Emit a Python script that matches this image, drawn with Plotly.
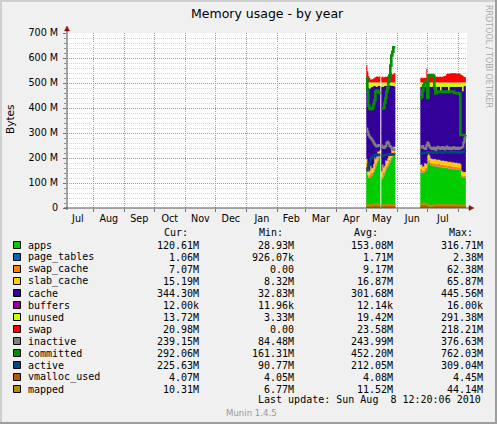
import plotly.graph_objects as go
from datetime import datetime, timedelta

# ---------------- data (values in MBytes, one value per day) ----------------
block1_start = "2010-05-01"
block2_start = "2010-06-24"
last_update = "2010-08-08 12:20:06"

apps_b1 = [150, 130, 119, 120, 122, 128, 135, 142, 155, 165, 178, 188, 195, 203, None,
           112, 120, 128, 140, 150, 158, 165, 172, 180, 190, 198, 206, 212, 218]
page_tables_b1 = [1.8, 1.8, 1.7, 1.8, 1.9, 1.8, 1.7, 1.8, 1.9, 1.8, 1.7, 1.8, 1.8, 1.7, None,
                  1.8, 1.9, 1.8, 1.7, 1.8, 1.8, 1.7, 1.8, 1.9, 1.8, 1.7, 1.8, 1.8, 1.8]
swap_cache_b1 = [25, 12, 8, 10, 20, 10, 8, 12, 18, 10, 9, 14, 10, 8, None,
                 10, 22, 12, 9, 15, 10, 12, 18, 11, 9, 14, 10, 12, 8]
slab_cache_b1 = [20, 18, 16, 17, 25, 18, 16, 20, 28, 18, 17, 22, 18, 17, None,
                 22, 30, 20, 18, 24, 18, 20, 26, 18, 17, 22, 18, 20, 16]
cache_b1 = [293.2, 325.2, 335.2, 328.2, 313.2, 326.2, 325.2, 312.2, 287.2, 292.2, 278.2, 262.2, 265.2, 259.2, None,
            340.2, 310.2, 325.2, 319.2, 299.2, 301.2, 288.2, 270.2, 279.2, 273.2, 253.2, 254.2, 242.2, 243.2]
buffers_b1 = [0.012, 0.012, 0.012, 0.013, 0.012, 0.012, 0.012, 0.012, 0.013, 0.012, 0.012, 0.012, 0.012, 0.012, None,
              0.012, 0.012, 0.012, 0.012, 0.012, 0.013, 0.012, 0.012, 0.012, 0.012, 0.012, 0.012, 0.012, 0.012]
unused_b1 = [12, 15, 22, 25, 20, 18, 16, 14, 12, 15, 18, 14, 12, 13, None,
             16, 18, 15, 14, 12, 13, 15, 14, 12, 11, 13, 12, 14, 15]
swap_b1 = [70, 45, 25, 18, 12, 12, 14, 16, 20, 22, 24, 24, 22, 25, None,
           22, 24, 20, 22, 24, 22, 26, 30, 36, 42, 35, 32, 36, 38]
inactive_b1 = [318, 305, 292, 285, 280, 275, 270, 262, 255, 250, 246, 250, 252, 248, None,
               250, 245, 240, 242, 248, 260, 265, 258, 248, 245, 240, 236, 232, 235]
committed_b1 = [520, 470, 410, 398, 395, 395, 400, 415, 430, 465, 470, 468, 460, 462, None,
                400, 398, 400, 420, 440, 465, 480, 505, 530, 570, 610, 625, 643, 643]
active_b1 = [150, 160, 172, 185, 195, 200, 205, 210, 212, 214, 212, 210, 214, 212, None,
             205, 207, 210, 212, 214, 212, 213, 215, 212, 214, 216, 213, 215, 214]
vmalloc_used_b1 = [4.1, 4.1, 4.1, 4.1, 4.1, 4.1, 4.1, 4.1, 4.1, 4.1, 4.1, 4.1, 4.1, 4.1, None,
                   4.1, 4.1, 4.1, 4.1, 4.1, 4.1, 4.1, 4.1, 4.1, 4.1, 4.1, 4.1, 4.1, 4.1]
mapped_b1 = [10, 10, 11, 10, 10, 11, 12, 12, 14, 16, 17, 15, 12, 11, None,
             10, 10, 11, 11, 12, 12, 12, 13, 12, 12, 12, 11, 12, 12]

apps_b2 = [142, 140, 138, 140, 145, 148, 150, 172, 185, 180,
           170, 168, 168, 166, 165, 166, 164, 165, 163, 164,
           162, 160, 161, 159, 160, 158, 160, 157, 156, 155,
           156, 154, 155, 153, 154, 152, 153, 151, 152, 150,
           148, 125, 122, 121, 121, 120.6]
page_tables_b2 = [1.7, 1.7, 1.7, 1.7, 1.7, 1.7, 1.7, 1.7, 1.7, 1.7,
                  1.7, 1.7, 1.7, 1.7, 1.7, 1.7, 1.7, 1.7, 1.7, 1.7,
                  1.7, 1.7, 1.7, 1.7, 1.7, 1.7, 1.7, 1.7, 1.7, 1.7,
                  1.7, 1.7, 1.7, 1.7, 1.7, 1.7, 1.7, 1.7, 1.7, 1.7,
                  1.7, 1.5, 1.3, 1.2, 1.1, 1.06]
swap_cache_b2 = [12, 14, 10, 9, 12, 11, 8, 15, 12, 10,
                 10, 11, 9, 10, 11, 10, 9, 10, 11, 10,
                 9, 10, 10, 11, 9, 10, 10, 9, 10, 11,
                 10, 9, 10, 10, 9, 10, 9, 10, 9, 10,
                 9, 8, 7, 7, 7, 7.07]
slab_cache_b2 = [16, 18, 15, 16, 20, 17, 15, 22, 20, 17,
                 16, 17, 16, 17, 18, 17, 16, 17, 16, 17,
                 16, 17, 16, 17, 16, 17, 16, 16, 17, 16,
                 17, 16, 16, 17, 16, 16, 17, 16, 16, 17,
                 16, 15, 15, 15, 15, 15.19]
cache_b2 = [312.3, 312.3, 317.3, 317.3, 308.3, 308.3, 307.3, 277.3, 268.3, 277.3,
            286.3, 287.3, 291.3, 289.3, 289.3, 269.3, 293.3, 291.3, 294.3, 291.3,
            273.3, 296.3, 297.3, 295.3, 298.3, 299.3, 296.3, 301.3, 275.3, 300.3,
            300.3, 305.3, 301.3, 303.3, 305.3, 304.3, 304.3, 307.3, 306.3, 305.3,
            311.3, 335.5, 321.7, 342.8, 343.9, 344.3]
buffers_b2 = [0.012, 0.012, 0.012, 0.012, 0.012, 0.012, 0.012, 0.012, 0.012, 0.012,
              0.012, 0.012, 0.012, 0.012, 0.012, 0.012, 0.012, 0.012, 0.012, 0.012,
              0.012, 0.012, 0.012, 0.012, 0.012, 0.012, 0.012, 0.012, 0.012, 0.012,
              0.012, 0.012, 0.012, 0.012, 0.012, 0.012, 0.012, 0.012, 0.012, 0.012,
              0.012, 0.012, 0.012, 0.012, 0.012, 0.012]
unused_b2 = [18, 16, 20, 18, 15, 16, 20, 14, 15, 16,
             18, 17, 16, 18, 17, 38, 18, 17, 16, 18,
             40, 17, 16, 18, 17, 16, 18, 17, 42, 18,
             17, 16, 18, 17, 16, 18, 17, 16, 17, 18,
             16, 17, 35, 15, 14, 13.72]
swap_b2 = [18, 20, 17, 18, 19, 18, 55, 28, 26, 25,
           26, 27, 25, 24, 23, 22, 24, 23, 22, 24,
           23, 22, 24, 25, 26, 28, 34, 36, 35, 37,
           36, 38, 37, 36, 38, 37, 36, 35, 37, 36,
           32, 30, 28, 24, 22, 20.98]
inactive_b2 = [245, 242, 248, 240, 238, 236, 250, 262, 255, 245,
               240, 236, 238, 242, 235, 232, 240, 245, 238, 242,
               236, 240, 244, 238, 234, 240, 246, 238, 236, 242,
               240, 235, 238, 244, 240, 236, 238, 242, 236, 238,
               240, 242, 245, 262, 278, 290]
committed_b2 = [440, 445, 470, 490, 500, 505, 500, 440, 530, 532,
                532, 530, 532, 528, 480, 458, 465, 466, 464, 465,
                466, 465, 464, 466, 465, 464, 465, 466, 465, 464,
                465, 466, 464, 465, 460, 460, 459, 460, 458, 458,
                292, 292, 292, 292, 292, 292.06]
active_b2 = [215, 218, 220, 222, 220, 218, 222, 224, 220, 222,
             224, 222, 220, 223, 225, 222, 220, 224, 222, 226,
             224, 222, 220, 224, 222, 225, 223, 221, 224, 222,
             226, 223, 221, 224, 222, 225, 223, 221, 224, 222,
             220, 224, 226, 224, 226, 225.63]
vmalloc_used_b2 = [4.1, 4.1, 4.1, 4.1, 4.1, 4.1, 4.1, 4.1, 4.1, 4.1,
                   4.1, 4.1, 4.1, 4.1, 4.1, 4.1, 4.1, 4.1, 4.1, 4.1,
                   4.1, 4.1, 4.1, 4.1, 4.1, 4.1, 4.1, 4.1, 4.1, 4.1,
                   4.1, 4.1, 4.1, 4.1, 4.1, 4.1, 4.1, 4.1, 4.1, 4.1,
                   4.1, 4.1, 4.1, 4.1, 4.1, 4.07]
mapped_b2 = [16, 17, 16, 18, 17, 16, 15, 14, 12, 8,
             7, 8, 10, 11, 12, 11, 12, 11, 12, 11,
             12, 11, 12, 11, 12, 11, 12, 11, 12, 11,
             12, 11, 12, 11, 12, 11, 11, 11, 10, 11,
             10, 10, 10, 10, 10, 10.31]

series_names = ["apps", "page_tables", "swap_cache", "slab_cache", "cache", "buffers",
                "unused", "swap", "inactive", "committed", "active", "vmalloc_used", "mapped"]
series_colors = ["#00CC00", "#0066B3", "#FF8000", "#FFCC00", "#330099", "#990099",
                 "#CCFF00", "#FF0000", "#808080", "#008F00", "#00487D", "#B35A00", "#B38F00"]
area_names = ["apps", "page_tables", "swap_cache", "slab_cache", "cache", "buffers", "unused", "swap"]
line_names = ["inactive", "committed", "active", "vmalloc_used", "mapped"]

cur_text = ["120.61M", "1.06M", "7.07M", "15.19M", "344.30M", "12.00k", "13.72M", "20.98M",
            "239.15M", "292.06M", "225.63M", "4.07M", "10.31M"]
min_text = ["28.93M", "926.07k", "0.00", "8.32M", "32.83M", "11.96k", "3.33M", "0.00",
            "84.48M", "161.31M", "90.77M", "4.05M", "6.77M"]
avg_text = ["153.08M", "1.71M", "9.17M", "16.87M", "301.68M", "12.14k", "19.42M", "23.58M",
            "243.99M", "452.20M", "212.05M", "4.08M", "11.52M"]
max_text = ["316.71M", "2.38M", "62.38M", "65.87M", "445.56M", "16.00k", "291.38M", "218.21M",
            "376.63M", "762.03M", "309.04M", "4.45M", "44.14M"]

y_major_values = [0, 100, 200, 300, 400, 500, 600, 700]
y_major_labels = ["0", "100 M", "200 M", "300 M", "400 M", "500 M", "600 M", "700 M"]
y_minor_step = 20
month_labels = ["Jul", "Aug", "Sep", "Oct", "Nov", "Dec", "Jan", "Feb", "Mar", "Apr", "May", "Jun", "Jul"]
month_starts = ["2009-07-01", "2009-08-01", "2009-09-01", "2009-10-01", "2009-11-01", "2009-12-01",
                "2010-01-01", "2010-02-01", "2010-03-01", "2010-04-01", "2010-05-01", "2010-06-01",
                "2010-07-01", "2010-08-01"]

blocks = [
    (block1_start, {"apps": apps_b1, "page_tables": page_tables_b1, "swap_cache": swap_cache_b1,
                    "slab_cache": slab_cache_b1, "cache": cache_b1, "buffers": buffers_b1,
                    "unused": unused_b1, "swap": swap_b1, "inactive": inactive_b1,
                    "committed": committed_b1, "active": active_b1,
                    "vmalloc_used": vmalloc_used_b1, "mapped": mapped_b1}),
    (block2_start, {"apps": apps_b2, "page_tables": page_tables_b2, "swap_cache": swap_cache_b2,
                    "slab_cache": slab_cache_b2, "cache": cache_b2, "buffers": buffers_b2,
                    "unused": unused_b2, "swap": swap_b2, "inactive": inactive_b2,
                    "committed": committed_b2, "active": active_b2,
                    "vmalloc_used": vmalloc_used_b2, "mapped": mapped_b2}),
]

# ---------------- geometry ----------------
W, H = 497, 424
PL, PR, PT, PB = 67, 467, 33, 208          # plot area in pixels
x_start = datetime(2009, 7, 5, 16, 0)
x_end = x_start + timedelta(days=400)
t_end = datetime.fromisoformat(last_update)
color_of = dict(zip(series_names, series_colors))
MAJOR_GRID = "#F07878"
MINOR_GRID = "#D2D2D2"


def px(x):
    return (x - PL) / (PR - PL)


def py(y):
    return (PB - y) / (PB - PT)


def segments(start, values):
    d0 = datetime.fromisoformat(start)
    runs, cur = [], []
    for i, v in enumerate(values):
        if v is None:
            if cur:
                runs.append(cur)
                cur = []
        else:
            cur.append(i)
    if cur:
        runs.append(cur)
    out = []
    for r in runs:
        xs = [d0 + timedelta(days=i) for i in r]
        xe = d0 + timedelta(days=r[-1] + 1)
        if xe > t_end:
            xe = t_end
        xs.append(xe)
        ys = [values[i] for i in r] + [values[r[-1]]]
        out.append((xs, ys))
    return out


fig = go.Figure()

# stacked areas
for bi, (start, data) in enumerate(blocks):
    for name in area_names:
        for si, (xs, ys) in enumerate(segments(start, data[name])):
            fig.add_trace(go.Scatter(
                x=xs, y=ys, mode="lines", stackgroup=f"b{bi}s{si}",
                line=dict(width=0, shape="hv"), fillcolor=color_of[name],
                name=name, hoverinfo="skip"))

# lines
for name in line_names:
    for bi, (start, data) in enumerate(blocks):
        for xs, ys in segments(start, data[name]):
            fig.add_trace(go.Scatter(
                x=xs, y=ys, mode="lines",
                line=dict(width=2.6 if name == "committed" else 2, shape="hv", color=color_of[name]),
                name=name, hoverinfo="skip"))

# empty trace that binds the overlay axes (labels / minor grid)
fig.add_trace(go.Scatter(x=[], y=[], xaxis="x2", yaxis="y2", hoverinfo="skip", showlegend=False))

# ticks
ms = [datetime.fromisoformat(m) for m in month_starts]
mids = [ms[i] + (ms[i + 1] - ms[i]) / 2 for i in range(len(ms) - 1)]
y_minor = [v for v in range(0, 701, y_minor_step) if v not in y_major_values]

tickfont = dict(family="DejaVu Sans", size=9.6, color="#000000")
fig.update_layout(
    width=W, height=H, autosize=False,
    margin=dict(l=PL, r=W - PR, t=PT, b=H - PB, pad=0),
    paper_bgcolor="#F0F0F0", plot_bgcolor="#FFFFFF",
    showlegend=False,
    # main axes: month-boundary grid (pink) and 100 M grid (pink) with labels
    xaxis=dict(type="date", range=[x_start, x_end], tickmode="array", tickvals=ms[1:],
               ticktext=["" for _ in ms[1:]], ticks="outside", ticklen=3, tickcolor="#707070",
               showgrid=True, gridcolor=MAJOR_GRID, griddash="1px,1px", gridwidth=1,
               zeroline=False, showline=False),
    yaxis=dict(range=[0, 700], tickmode="array", tickvals=y_major_values, ticktext=y_major_labels,
               ticks="outside", ticklen=3, tickcolor="#707070", showgrid=True,
               gridcolor=MAJOR_GRID, griddash="1px,1px", gridwidth=1, zeroline=False,
               showline=False, tickfont=tickfont, ticklabelstandoff=3),
    # overlay axes: month labels centred in each month, 20 M minor grid (grey)
    xaxis2=dict(type="date", range=[x_start, x_end], overlaying="x", anchor="y", side="bottom",
                tickmode="array", tickvals=mids, ticktext=month_labels, ticks="",
                showgrid=False, zeroline=False, showline=False, tickfont=tickfont,
                ticklabelstandoff=3),
    yaxis2=dict(range=[0, 700], overlaying="y", anchor="x", side="left", tickmode="array",
                tickvals=y_minor, ticktext=["" for _ in y_minor], ticks="outside", ticklen=2,
                tickcolor="#909090", showgrid=True, gridcolor=MINOR_GRID, griddash="1px,1px",
                gridwidth=1, zeroline=False, showline=False),
)

shapes = []
# axis lines + arrows
shapes.append(dict(type="line", xref="paper", yref="paper", x0=px(67), x1=px(67), y0=py(210), y1=py(28),
                   line=dict(color="#505050", width=1), layer="above"))
shapes.append(dict(type="line", xref="paper", yref="paper", x0=px(64), x1=px(470), y0=py(208), y1=py(208),
                   line=dict(color="#505050", width=1), layer="above"))
shapes.append(dict(type="path", xref="paper", yref="paper",
                   path=f"M {px(64.5)} {py(31)} L {px(69.5)} {py(31)} L {px(67)} {py(26)} Z",
                   fillcolor="#8B1010", line=dict(color="#8B1010", width=0.5), layer="above"))
shapes.append(dict(type="path", xref="paper", yref="paper",
                   path=f"M {px(469)} {py(205.5)} L {px(469)} {py(210.5)} L {px(474)} {py(208)} Z",
                   fillcolor="#8B1010", line=dict(color="#8B1010", width=0.5), layer="above"))
# frame (3D border)
shapes.append(dict(type="rect", xref="paper", yref="paper", x0=px(0), x1=px(2), y0=py(424), y1=py(0),
                   fillcolor="#CFCFCF", line=dict(width=0)))
shapes.append(dict(type="rect", xref="paper", yref="paper", x0=px(0), x1=px(497), y0=py(2), y1=py(0),
                   fillcolor="#CFCFCF", line=dict(width=0)))
shapes.append(dict(type="rect", xref="paper", yref="paper", x0=px(495), x1=px(497), y0=py(424), y1=py(0),
                   fillcolor="#9E9E9E", line=dict(width=0)))
shapes.append(dict(type="rect", xref="paper", yref="paper", x0=px(0), x1=px(497), y0=py(424), y1=py(422),
                   fillcolor="#9E9E9E", line=dict(width=0)))

annotations = []


def txt(text, x, y, xanchor="left", size=10, family="DejaVu Sans Mono", color="#000000", angle=0):
    annotations.append(dict(text=text, x=px(x), y=py(y), xref="paper", yref="paper",
                            xanchor=xanchor, yanchor="middle", showarrow=False, borderpad=0,
                            textangle=angle, font=dict(family=family, size=size, color=color)))


# title, axis title, watermark
txt("Memory usage - by year", 267, 13.5, "center", 12.5, "DejaVu Sans")
txt("Bytes", 10, 120, "center", 10.5, "DejaVu Sans", angle=-90)
txt("RRDTOOL / TOBI OETIKER", 488.5, 56.5, "center", 8, "DejaVu Sans", "#AAAAAA", angle=90)

# legend
row0, dy = 245, 12
txt("Cur:", 163.3, 232.5)
txt("Min:", 258.3, 232.5)
txt("Avg:", 353.3, 232.5)
txt("Max:", 448.3, 232.5)
for i, name in enumerate(series_names):
    yy = row0 + dy * i
    shapes.append(dict(type="rect", xref="paper", yref="paper", x0=px(13.5), x1=px(20.5),
                       y0=py(yy + 3.5), y1=py(yy - 3.5), fillcolor=series_colors[i],
                       line=dict(color="#000000", width=1)))
    txt(name, 26.7, yy)
    txt(cur_text[i], 199.5, yy, "right")
    txt(min_text[i], 295.2, yy, "right")
    txt(avg_text[i], 393.5, yy, "right")
    txt(max_text[i], 483.5, yy, "right")

txt("Last update: Sun Aug\u00a0\u00a08 12:20:06 2010", 481.8, 399.5, "right")
txt("Munin 1.4.5", 251, 413, "center", 8.6, "DejaVu Sans", "#999999")

fig.update_layout(shapes=shapes, annotations=annotations)
fig.write_html("out.html")
